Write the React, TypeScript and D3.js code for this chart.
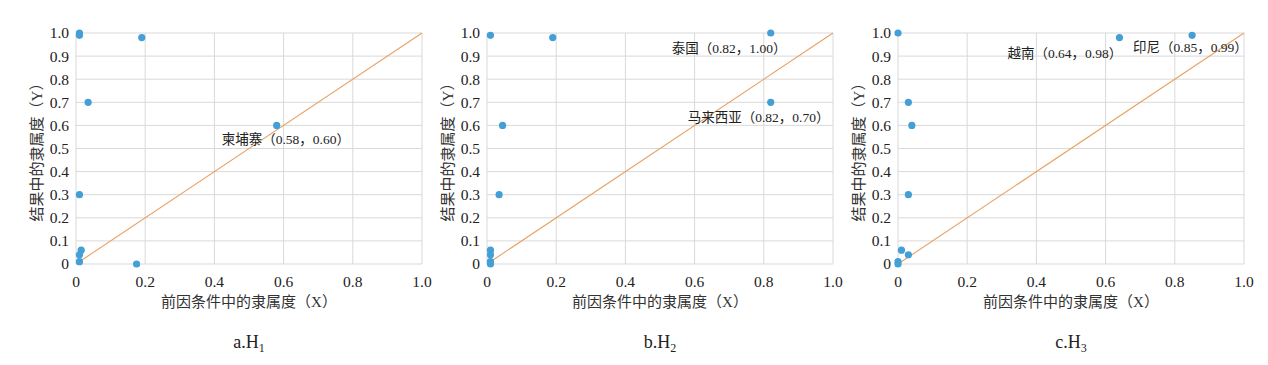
import React from 'react';
import * as d3 from 'd3';

interface Pt { x: number; y: number; }
interface Note { text: string; x: number; y: number; dx: number; dy: number; }

const h1X = [0.01, 0.01, 0.19, 0.035, 0.58, 0.01, 0.015, 0.01, 0.01, 0.175];
const h1Y = [1.0, 0.99, 0.98, 0.70, 0.60, 0.30, 0.06, 0.04, 0.01, 0.0];
const h2X = [0.01, 0.19, 0.82, 0.82, 0.045, 0.035, 0.01, 0.01, 0.01, 0.01];
const h2Y = [0.99, 0.98, 1.0, 0.70, 0.60, 0.30, 0.06, 0.04, 0.01, 0.0];
const h3X = [0.0, 0.64, 0.85, 0.03, 0.04, 0.03, 0.01, 0.03, 0.0, 0.0];
const h3Y = [1.0, 0.98, 0.99, 0.70, 0.60, 0.30, 0.06, 0.04, 0.01, 0.0];

const xTicks = [0, 0.2, 0.4, 0.6, 0.8, 1.0];
const yTicks = [0, 0.1, 0.2, 0.3, 0.4, 0.5, 0.6, 0.7, 0.8, 0.9, 1.0];
const captions = ['a', 'b', 'c'];

const notes: Note[][] = [
  [{ text: '柬埔寨（0.58，0.60）', x: 0.58, y: 0.60, dx: -55, dy: 19 }],
  [
    { text: '泰国（0.82，1.00）', x: 0.82, y: 1.0, dx: -99, dy: 20 },
    { text: '马来西亚（0.82，0.70）', x: 0.82, y: 0.70, dx: -83, dy: 20 },
  ],
  [
    { text: '越南（0.64，0.98）', x: 0.64, y: 0.98, dx: -112, dy: 20 },
    { text: '印尼（0.85，0.99）', x: 0.85, y: 0.99, dx: -59, dy: 17 },
  ],
];

const zip = (xs: number[], ys: number[]): Pt[] => xs.map((x, i) => ({ x, y: ys[i] }));
const series = [zip(h1X, h1Y), zip(h2X, h2Y), zip(h3X, h3Y)];

const W = 1268;
const H = 365;
const plotW = 346;
const plotH = 231;
const top = 33;
const lefts = [76, 487, 898];
const serif = '"Liberation Serif", "Times New Roman", "Noto Sans CJK SC", serif';

function Panel({ data, left, idx }: { data: Pt[]; left: number; idx: number }) {
  const x = d3.scaleLinear().domain([0, 1]).range([0, plotW]);
  const y = d3.scaleLinear().domain([0, 1]).range([plotH, 0]);
  const diag = d3.line<number>().x(d => x(d)).y(d => y(d))([0, 1]) || '';
  return (
    <g transform={`translate(${left},${top})`}>
      {xTicks.map(t => (
        <line key={'gx' + t} x1={x(t)} x2={x(t)} y1={0} y2={plotH} stroke="#d9d9d9" strokeWidth={1} />
      ))}
      {yTicks.map(t => (
        <line key={'gy' + t} x1={0} x2={plotW} y1={y(t)} y2={y(t)} stroke="#d9d9d9" strokeWidth={1} />
      ))}
      {yTicks.map(t => (
        <text key={'ty' + t} x={-7} y={y(t)} dy="0.35em" textAnchor="end" fontSize={15.5} fontFamily={serif} fill="#222">
          {t === 0 ? '0' : t.toFixed(1)}
        </text>
      ))}
      {xTicks.map(t => (
        <text key={'tx' + t} x={x(t)} y={plotH + 23} textAnchor="middle" fontSize={15.5} fontFamily={serif} fill="#222">
          {t === 0 ? '0' : t.toFixed(1)}
        </text>
      ))}
      <path d={diag} fill="none" stroke="#e8a164" strokeWidth={1.1} />
      {data.map((d, i) => (
        <circle key={i} cx={x(d.x)} cy={y(d.y)} r={3.6} fill="#439fd6" />
      ))}
      {notes[idx].map((n, i) => (
        <text key={'n' + i} x={x(n.x) + n.dx} y={y(n.y) + n.dy} fontSize={13.5} fontFamily={serif} fill="#222">
          {n.text}
        </text>
      ))}
      <text
        transform={`translate(${-39},${plotH / 2}) rotate(-90)`}
        textAnchor="middle"
        dy="0.35em"
        fontSize={15}
        fontFamily={serif}
        fill="#333"
      >
        结果中的隶属度（Y）
      </text>
      <text x={plotW / 2} y={plotH + 43} textAnchor="middle" fontSize={15} fontFamily={serif} fill="#333">
        前因条件中的隶属度（X）
      </text>
      <text x={plotW / 2} y={plotH + 84} textAnchor="middle" fontSize={18} fontFamily={serif} fill="#222">
        {captions[idx]}.H
        <tspan fontSize={12} dy={4}>{idx + 1}</tspan>
      </text>
    </g>
  );
}

export default function App() {
  return (
    <svg width={W} height={H} style={{ position: 'absolute', left: 0, top: 0, background: '#fff' }}>
      <rect width={W} height={H} fill="#fff" />
      {series.map((s, i) => (
        <Panel key={i} data={s} left={lefts[i]} idx={i} />
      ))}
    </svg>
  );
}
